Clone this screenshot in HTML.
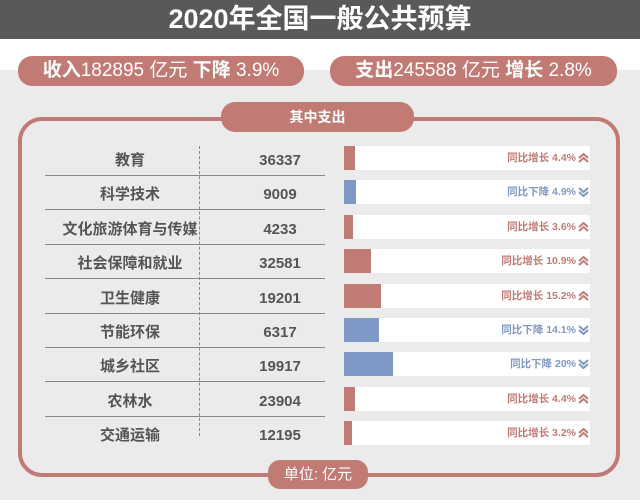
<!DOCTYPE html>
<html><head><meta charset="utf-8"><style>
*{margin:0;padding:0;box-sizing:border-box}
body{width:640px;height:503px;background:#fff;position:relative;overflow:hidden;font-family:"Liberation Sans","Noto Sans CJK SC",sans-serif}
.a{position:absolute}
.title{left:0;top:0;width:640px;height:39px;background:#595959;color:#fff;font-size:27px;font-weight:bold;text-align:center;line-height:39px}
.grey{left:0;top:70px;width:640px;height:430px;background:#ebebeb}
.pill{background:#c27b74;color:#fff;border-radius:14px;text-align:center}
.box{left:18px;top:117px;width:602px;height:360px;border:4px solid #c27b74;border-radius:24px}
.lbl{left:45px;width:170px;text-align:center;font-size:15px;font-weight:bold;color:#555}
.num{left:215px;width:130px;text-align:center;font-size:15px;font-weight:bold;color:#555}
.hl{left:45px;width:280px;height:0;border-top:1.5px solid #888}
.bg{left:344px;width:246px;height:24px;background:#fff}
.bar{left:344px;height:24px}
.t{left:344px;width:232px;text-align:right;font-size:10.5px;font-weight:bold;line-height:24px}
.ar{left:578px;width:11px;height:10px}
</style></head><body>
<div class="a title">2020年全国一般公共预算</div>
<div class="a grey"></div>
<div class="a pill" style="left:18px;top:56px;width:286px;height:30px;font-size:19px;line-height:30px"><b>收入</b>182895 亿元 <b>下降</b> 3.9%</div>
<div class="a pill" style="left:330px;top:56px;width:287px;height:30px;font-size:19px;line-height:30px"><b>支出</b>245588 亿元 <b>增长</b> 2.8%</div>
<div class="a box"></div>
<div class="a pill" style="left:221px;top:102px;width:193px;height:30px;font-size:14px;font-weight:bold;line-height:30px">其中支出</div>
<div class="a" style="left:199px;top:146px;height:290px;border-left:1px dashed #888"></div>
<div class="a pill" style="left:268px;top:460px;width:100px;height:29px;font-size:15px;line-height:29px;border-radius:12px">单位: 亿元</div>
<div id="rows"></div>
<script>
var d=[["教育","36337",4.4,1],["科学技术","9009",4.9,0],["文化旅游体育与传媒","4233",3.6,1],["社会保障和就业","32581",10.9,1],["卫生健康","19201",15.2,1],["节能环保","6317",14.1,0],["城乡社区","19917",20,0],["农林水","23904",4.4,1],["交通运输","12195",3.2,1]];
var h="";
d.forEach(function(r,i){var c=146+i*34.4;var col=r[3]?"#c27b74":"#7f99c6";
h+='<div class="a lbl" style="top:'+(c+3)+'px;line-height:24px">'+r[0]+'</div>';
h+='<div class="a num" style="top:'+(c+3)+'px;line-height:24px">'+r[1]+'</div>';
if(i<8)h+='<div class="a hl" style="top:'+(c+29)+'px"></div>';
h+='<div class="a bg" style="top:'+c+'px"></div>';
h+='<div class="a bar" style="top:'+c+'px;width:'+(r[2]*2.45)+'px;background:'+col+'"></div>';
h+='<div class="a t" style="top:'+c+'px;color:'+col+'">同比'+(r[3]?'增长':'下降')+' '+r[2]+'%</div>';
var p=r[3]?'M1 5 L5.5 1 L10 5 M1 9 L5.5 5 L10 9':'M1 1 L5.5 5 L10 1 M1 5 L5.5 9 L10 5';
h+='<svg class="a ar" style="top:'+(c+7)+'px" viewBox="0 0 11 10"><path d="'+p+'" fill="none" stroke="'+col+'" stroke-width="2"/></svg>';});
document.getElementById("rows").innerHTML=h;
</script>
</body></html>
